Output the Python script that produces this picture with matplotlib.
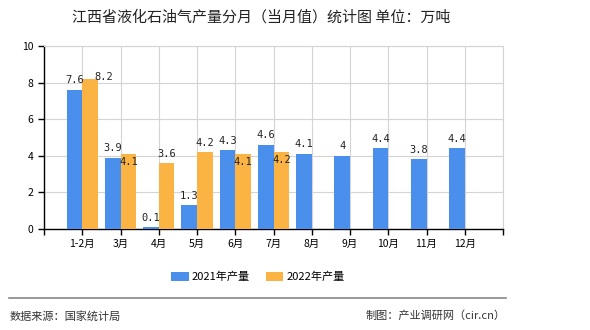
import matplotlib
matplotlib.use("Agg")
import matplotlib.pyplot as plt
import numpy as np

plt.rcParams['font.family'] = ['Noto Sans CJK SC', 'DejaVu Sans']

months = ["1-2月", "3月", "4月", "5月", "6月", "7月", "8月", "9月", "10月", "11月", "12月"]
y2021 = [7.6, 3.9, 0.1, 1.3, 4.3, 4.6, 4.1, 4, 4.4, 3.8, 4.4]
y2022 = [8.2, 4.1, 3.6, 4.2, 4.1, 4.2]
labels2021 = ["7.6", "3.9", "0.1", "1.3", "4.3", "4.6", "4.1", "4", "4.4", "3.8", "4.4"]
labels2022 = ["8.2", "4.1", "3.6", "4.2", "4.1", "4.2"]

c1 = "#4a8fec"
c2 = "#fbb343"

fig = plt.figure(figsize=(5.9, 3.3), dpi=100)
ax = fig.add_axes([44/590, 1-229/330, (503-44)/590, (229-46)/330])

x = np.arange(1, len(months)+1)
w = 0.41
ax.bar(x - w/2, y2021, w, color=c1, label="2021年产量", zorder=3)
ax.bar(x[:len(y2022)] + w/2, y2022, w, color=c2, label="2022年产量", zorder=3)

mono = dict(family="DejaVu Sans Mono", fontsize=7.5, color="#222222")
for i, v in enumerate(y2021):
    ax.text(x[i] - w/2, v + 0.25, labels2021[i], ha="center", va="bottom", **mono)
for i, v in enumerate(y2022):
    d = v - y2021[i]
    # 与旁边蓝柱标签太近时放进柱顶，稍高一点的往右挪
    if abs(d) < 0.5:
        ax.text(x[i] + w/2, v - 0.15, labels2022[i], ha="center", va="top", **mono)
    elif abs(d) < 1:
        ax.text(x[i] + w/2 + 0.35, v + 0.1, labels2022[i], ha="center", va="center", **mono)
    else:
        ax.text(x[i] + w/2, v + 0.25, labels2022[i], ha="center", va="bottom", **mono)

ax.set_xlim(0, 12)
ax.set_ylim(0, 10)
ax.set_xticks(np.arange(0, 13))
ax.set_xticklabels([""] + months + [""])
ax.set_yticks([0, 2, 4, 6, 8, 10])
ax.tick_params(axis="both", labelsize=7.5, length=4, width=1, colors="black")
ax.grid(True, color="#d4d4d4", linewidth=0.8, zorder=0)
for s in ["top", "right"]:
    ax.spines[s].set_color("#d4d4d4")
    ax.spines[s].set_linewidth(0.8)
for s in ["left", "bottom"]:
    ax.spines[s].set_color("black")
    ax.spines[s].set_linewidth(1)

fig.text(261/590, 1-17/330, "江西省液化石油气产量分月（当月值）统计图 单位：万吨",
         ha="center", va="center", fontsize=10.8, color="#222222")

fig.legend(loc="center", bbox_to_anchor=(258/590, 1-277/330), ncol=2, frameon=False,
           fontsize=8, handlelength=1.6, handleheight=0.9, columnspacing=1.4, handletextpad=0.3)

fig.add_artist(plt.Line2D([9/590, 506/590], [1-298/330, 1-298/330], color="#888888", linewidth=1.2))
fig.text(10/590, 1-316/330, "数据来源：国家统计局", ha="left", va="center", fontsize=8, color="#333333")
fig.text(506/590, 1-316/330, "制图：产业调研网（cir.cn）", ha="right", va="center", fontsize=8, color="#333333")

fig.savefig("out.png", dpi=100)
